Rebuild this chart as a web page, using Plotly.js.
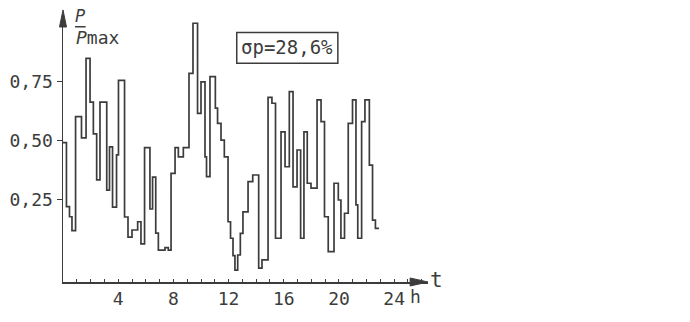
<!DOCTYPE html>
<html>
<head>
<meta charset="utf-8">
<script src="https://cdn.plot.ly/plotly-3.0.1.min.js"></script>
<style>html,body{margin:0;padding:0;background:#fff;}#chart{width:690px;height:322px;}</style>
</head>
<body>
<div id="chart"></div>
<script>
// step start times (h)
const stepStart = [0, 0.25, 0.47, 0.65, 0.91, 1.34, 1.67, 1.96, 2.20, 2.44,
  2.68, 3.17, 3.37, 3.59, 3.88, 4.02, 4.46, 4.71, 5.00, 5.41,
  5.65, 5.91, 6.30, 6.49, 6.72, 6.91, 7.39, 7.63, 7.83, 8.12,
  8.36, 8.72, 9.13, 9.42, 9.75, 10.0, 10.29, 10.40, 10.65, 11.04,
  11.20, 11.45, 11.69, 11.96, 12.14, 12.32, 12.46, 12.66, 12.85, 13.04,
  13.41, 13.75, 14.18, 14.42, 14.86, 15.14, 15.40, 15.80, 16.09, 16.40,
  16.67, 16.96, 17.22, 17.46, 17.70, 17.97, 18.41, 18.70, 18.95, 19.22,
  19.64, 19.95, 20.14, 20.40, 20.67, 20.98, 21.23, 21.36, 21.64, 21.88,
  22.20, 22.43, 22.64];
const endTime = 22.90;
// relative power P/Pmax for each step
const pRel = [0.49, 0.219, 0.176, 0.117, 0.60, 0.51, 0.847, 0.662, 0.527, 0.332,
  0.662, 0.289, 0.472, 0.217, 0.438, 0.754, 0.175, 0.09, 0.12, 0.155,
  0.061, 0.469, 0.209, 0.344, 0.107, 0.035, 0.045, 0.035, 0.36, 0.469,
  0.43, 0.469, 0.784, 0.996, 0.614, 0.748, 0.43, 0.346, 0.77, 0.636,
  0.572, 0.501, 0.43, 0.155, 0.085, 0.011, -0.05, 0.014, 0.106, 0.197,
  0.325, 0.353, -0.042, -0.007, 0.682, 0.657, 0.085, 0.536, 0.388, 0.706,
  0.303, 0.459, 0.085, 0.536, 0.318, 0.297, 0.671, 0.579, 0.176, 0.028,
  0.318, 0.247, 0.085, 0.191, 0.572, 0.671, 0.226, 0.085, 0.579, 0.671,
  0.395, 0.162, 0.127];
const xTickVals = [4, 8, 12, 16, 20, 24];
const xTickText = ['4', '8', '12', '16', '20', '24'];
const yTickVals = [0.25, 0.5, 0.75];
const yTickText = ['0,25', '0,50', '0,75'];
const sigmaText = 'σp=28,6%';

const xs = stepStart.concat([endTime]);
const ys = pRel.concat([pRel[pRel.length - 1]]);

const ink = '#3c3c3c';
const font = 'DejaVu Sans Mono';

const trace = {
  x: xs, y: ys, type: 'scatter', mode: 'lines',
  line: {shape: 'hv', color: ink, width: 1.7},
  hoverinfo: 'skip', showlegend: false
};

function note(x, y, text, size) {
  return {xref: 'paper', yref: 'paper', x: x, y: y, text: text,
    xanchor: 'center', yanchor: 'middle', showarrow: false,
    font: {family: font, size: size, color: ink}};
}

const layout = {
  width: 690, height: 322,
  margin: {l: 63, r: 262, t: 15, b: 40},
  paper_bgcolor: '#fff', plot_bgcolor: '#fff',
  showlegend: false,
  xaxis: {
    range: [0, 26.45], showgrid: false, zeroline: false,
    showline: true, linecolor: ink, linewidth: 1.5,
    tickvals: xTickVals, ticktext: xTickText,
    ticks: 'inside', ticklen: 3, tickcolor: ink, tickwidth: 1,
    minor: {dtick: 1, tick0: 0, ticks: 'inside', ticklen: 3, tickcolor: ink, tickwidth: 1},
    tickfont: {family: font, size: 18, color: ink}
  },
  yaxis: {
    range: [-0.1004, 1.031], showgrid: false, zeroline: false,
    showline: true, linecolor: ink, linewidth: 1.5,
    tickvals: yTickVals, ticktext: yTickText,
    ticks: 'outside', ticklen: 5, tickcolor: ink, tickwidth: 1,
    tickfont: {family: font, size: 18, color: ink}
  },
  shapes: [
    {type: 'path', xref: 'paper', yref: 'paper',
     path: 'M 1.0 0 L 0.951 0.015 L 0.951 -0.015 Z',
     fillcolor: ink, line: {color: ink, width: 1}},
    {type: 'path', xref: 'paper', yref: 'paper',
     path: 'M 0 1.019 L 0.0096 0.955 L -0.0096 0.955 Z',
     fillcolor: ink, line: {color: ink, width: 1}},
    {type: 'rect', xref: 'paper', yref: 'paper',
     x0: 0.476, x1: 0.753, y0: 0.819, y1: 0.934,
     line: {color: ink, width: 1.5}},
    {type: 'line', xref: 'paper', yref: 'paper',
     x0: 0.033, x1: 0.062, y0: 0.956, y1: 0.956,
     line: {color: ink, width: 1.5}}
  ],
  annotations: [
    note(0.615, 0.880, sigmaText, 19),
    note(0.046, 0.997, '<i>P</i>', 17),
    note(0.097, 0.915, '<i>P</i>max', 18),
    note(1.022, 0.0075, 't', 21),
    note(0.966, -0.056, 'h', 18)
  ]
};

Plotly.newPlot('chart', [trace], layout, {staticPlot: true, displayModeBar: false});
</script>
</body>
</html>
